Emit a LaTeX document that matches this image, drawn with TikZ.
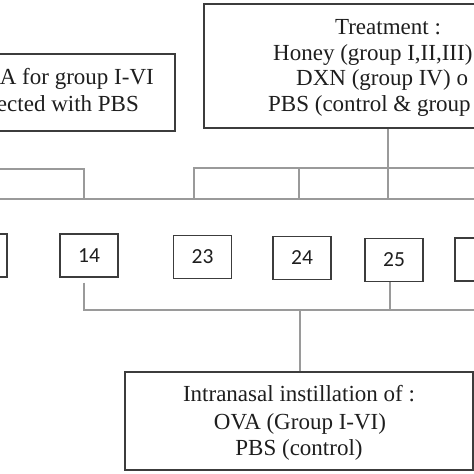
\documentclass[tikz,border=0pt]{standalone}
\usepackage{fontspec}
\setmainfont{Liberation Serif}
\newfontfamily\numfont{Carlito}
\definecolor{boxc}{HTML}{3C3C3C}
\definecolor{linec}{HTML}{9A9A9A}
\definecolor{txtc}{HTML}{1E1E1E}
\tikzset{
  frame/.style={draw=boxc, line width=1.4pt, inner sep=0pt, fill=white},
  daybox/.style={frame, minimum width=58pt, minimum height=43pt, font=\numfont\fontsize{21.5}{24}\selectfont, text=txtc},
  lbl/.style={inner sep=0pt, text=txtc, font=\fontsize{23}{26}\selectfont},
  conn/.style={draw=linec, line width=1.2pt}
}
\begin{document}
\begin{tikzpicture}[x=1pt,y=-1pt]
\useasboundingbox (0,0) rectangle (474,474);
\fill[white] (0,0) rectangle (474,474);
\clip (0,0) rectangle (474,474);
% top boxes
\node[frame, minimum width=425pt, minimum height=77pt] (L) at (-37.5,92.5) {};
\node[frame, minimum width=416pt, minimum height=124pt] (R) at (412,66) {};
\node[lbl, anchor=base east] (l1) at (154,84) {A for group I-VI};
\node[lbl, anchor=base east] (l2) at (139,111) {ected with PBS};
\node[lbl, anchor=base] (r1) at (388,34) {Treatment :};
\node[lbl, anchor=base west] (r2) at (273,60) {Honey (group I,II,III)};
\node[lbl, anchor=base west] (r3) at (296,85) {DXN (group IV) o};
\node[lbl, anchor=base west] (r4) at (268,111) {PBS (control \& group};
% day boxes
\node[daybox] (p1) at (-22,255.5) {};
\node[daybox] (n14) at (89,255.5) {14};
\node[daybox] (n23) at (202.5,257) {23};
\node[daybox] (n24) at (302,258) {24};
\node[daybox] (n25) at (394,260) {25};
\node[daybox] (p2) at (484,259.5) {};
% bottom box
\node[frame, minimum width=348pt, minimum height=98pt] (B) at (299,421) {};
\node[lbl, anchor=base] (b1) at (299,401) {Intranasal instillation of :};
\node[lbl, anchor=base] (b2) at (300,429) {OVA (Group I-VI)};
\node[lbl, anchor=base] (b3) at (299,455) {PBS (control)};
% coordinates
\coordinate (lf) at (-5,169);
\coordinate (ja) at (84,169);
\coordinate (jb) at (84,199);
\coordinate (hl) at (-5,199);
\coordinate (hr) at (480,199);
\coordinate (t0) at (388,168);
\coordinate (ta) at (194,168);
\coordinate (tb) at (299,168);
\coordinate (te) at (480,168);
\coordinate (da) at (194,199);
\coordinate (db) at (299,199);
\coordinate (dc) at (388,199);
\coordinate (ba) at (84,310);
\coordinate (bb) at (390,310);
\coordinate (bc) at (300,310);
\coordinate (be) at (480,310);
% connectors
\draw[conn] (lf) -- (ja) -- (jb);
\draw[conn] (hl) -- (hr);
\draw[conn] (R.south -| t0) -- (t0);
\draw[conn] (da) -- (ta) -- (te);
\draw[conn] (tb) -- (db);
\draw[conn] (t0) -- (dc);
\draw[conn, shorten <=5pt] (n14.south -| ba) -- (ba) -- (be);
\draw[conn] (n25.south -| bb) -- (bb);
\draw[conn] (bc) -- (B.north -| bc);
\end{tikzpicture}
\end{document}
